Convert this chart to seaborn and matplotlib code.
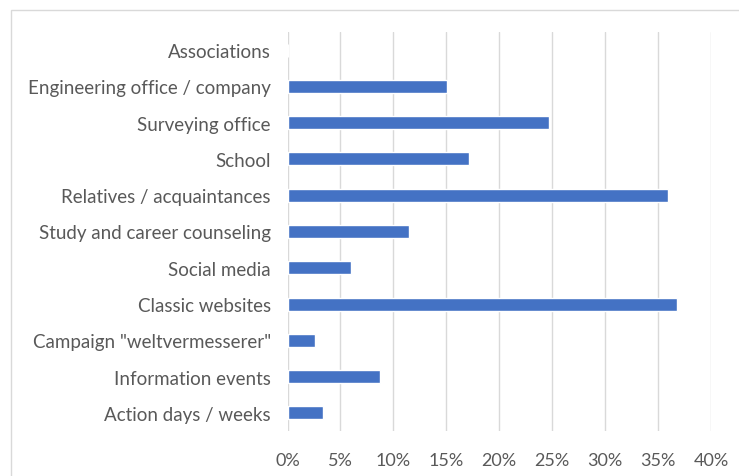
import numpy as np
import pandas as pd
import matplotlib
matplotlib.use('Agg')
import matplotlib.pyplot as plt
from matplotlib.patches import Rectangle
from matplotlib.ticker import PercentFormatter
import seaborn as sns

# Sources of information (share of respondents, %)
sources = ['Associations', 'Engineering office / company', 'Surveying office', 'School',
           'Relatives / acquaintances', 'Study and career counseling', 'Social media',
           'Classic websites', 'Campaign "weltvermesserer"', 'Information events',
           'Action days / weeks']
shares = [0.0, 15.1, 24.7, 17.1, 35.9, 11.5, 6.0, 36.8, 2.6, 8.7, 3.4]
xticks = [0, 5, 10, 15, 20, 25, 30, 35, 40]

data = pd.DataFrame({'source': sources, 'share': shares})

sns.set_style('white')
plt.rcParams['font.family'] = ['Lato', 'DejaVu Sans']

fig = plt.figure(figsize=(7.39, 4.77), dpi=100)
ax = fig.add_axes([287.5 / 739, 1 - 432 / 477, (711 - 287.5) / 739, (432 - 33) / 477])

sns.barplot(data=data, x='share', y='source', orient='h', color='#4472C4',
            width=0.36, ax=ax, saturation=1)

ax.set_xlim(0, 40)
ax.set_ylim(10.5, -0.5)
ax.set_xticks(xticks)
ax.xaxis.set_major_formatter(PercentFormatter(decimals=0))
ax.grid(axis='x', color='#d9d9d9', linewidth=1)
ax.set_axisbelow(True)
for s in ax.spines.values():
    s.set_visible(False)
ax.set_xlabel('')
ax.set_ylabel('')
ax.tick_params(axis='both', length=0, labelcolor='#595959')
ax.tick_params(axis='y', pad=12, labelsize=13.5)
ax.tick_params(axis='x', pad=15, labelsize=13)

# light frame around the chart area
fig.patches.append(Rectangle((10.5 / 739, -0.1), 1.2, 1 - 10.5 / 477 + 0.1,
                             transform=fig.transFigure, fill=False,
                             edgecolor='#d9d9d9', linewidth=1))

fig.savefig('out.png', dpi=100)
